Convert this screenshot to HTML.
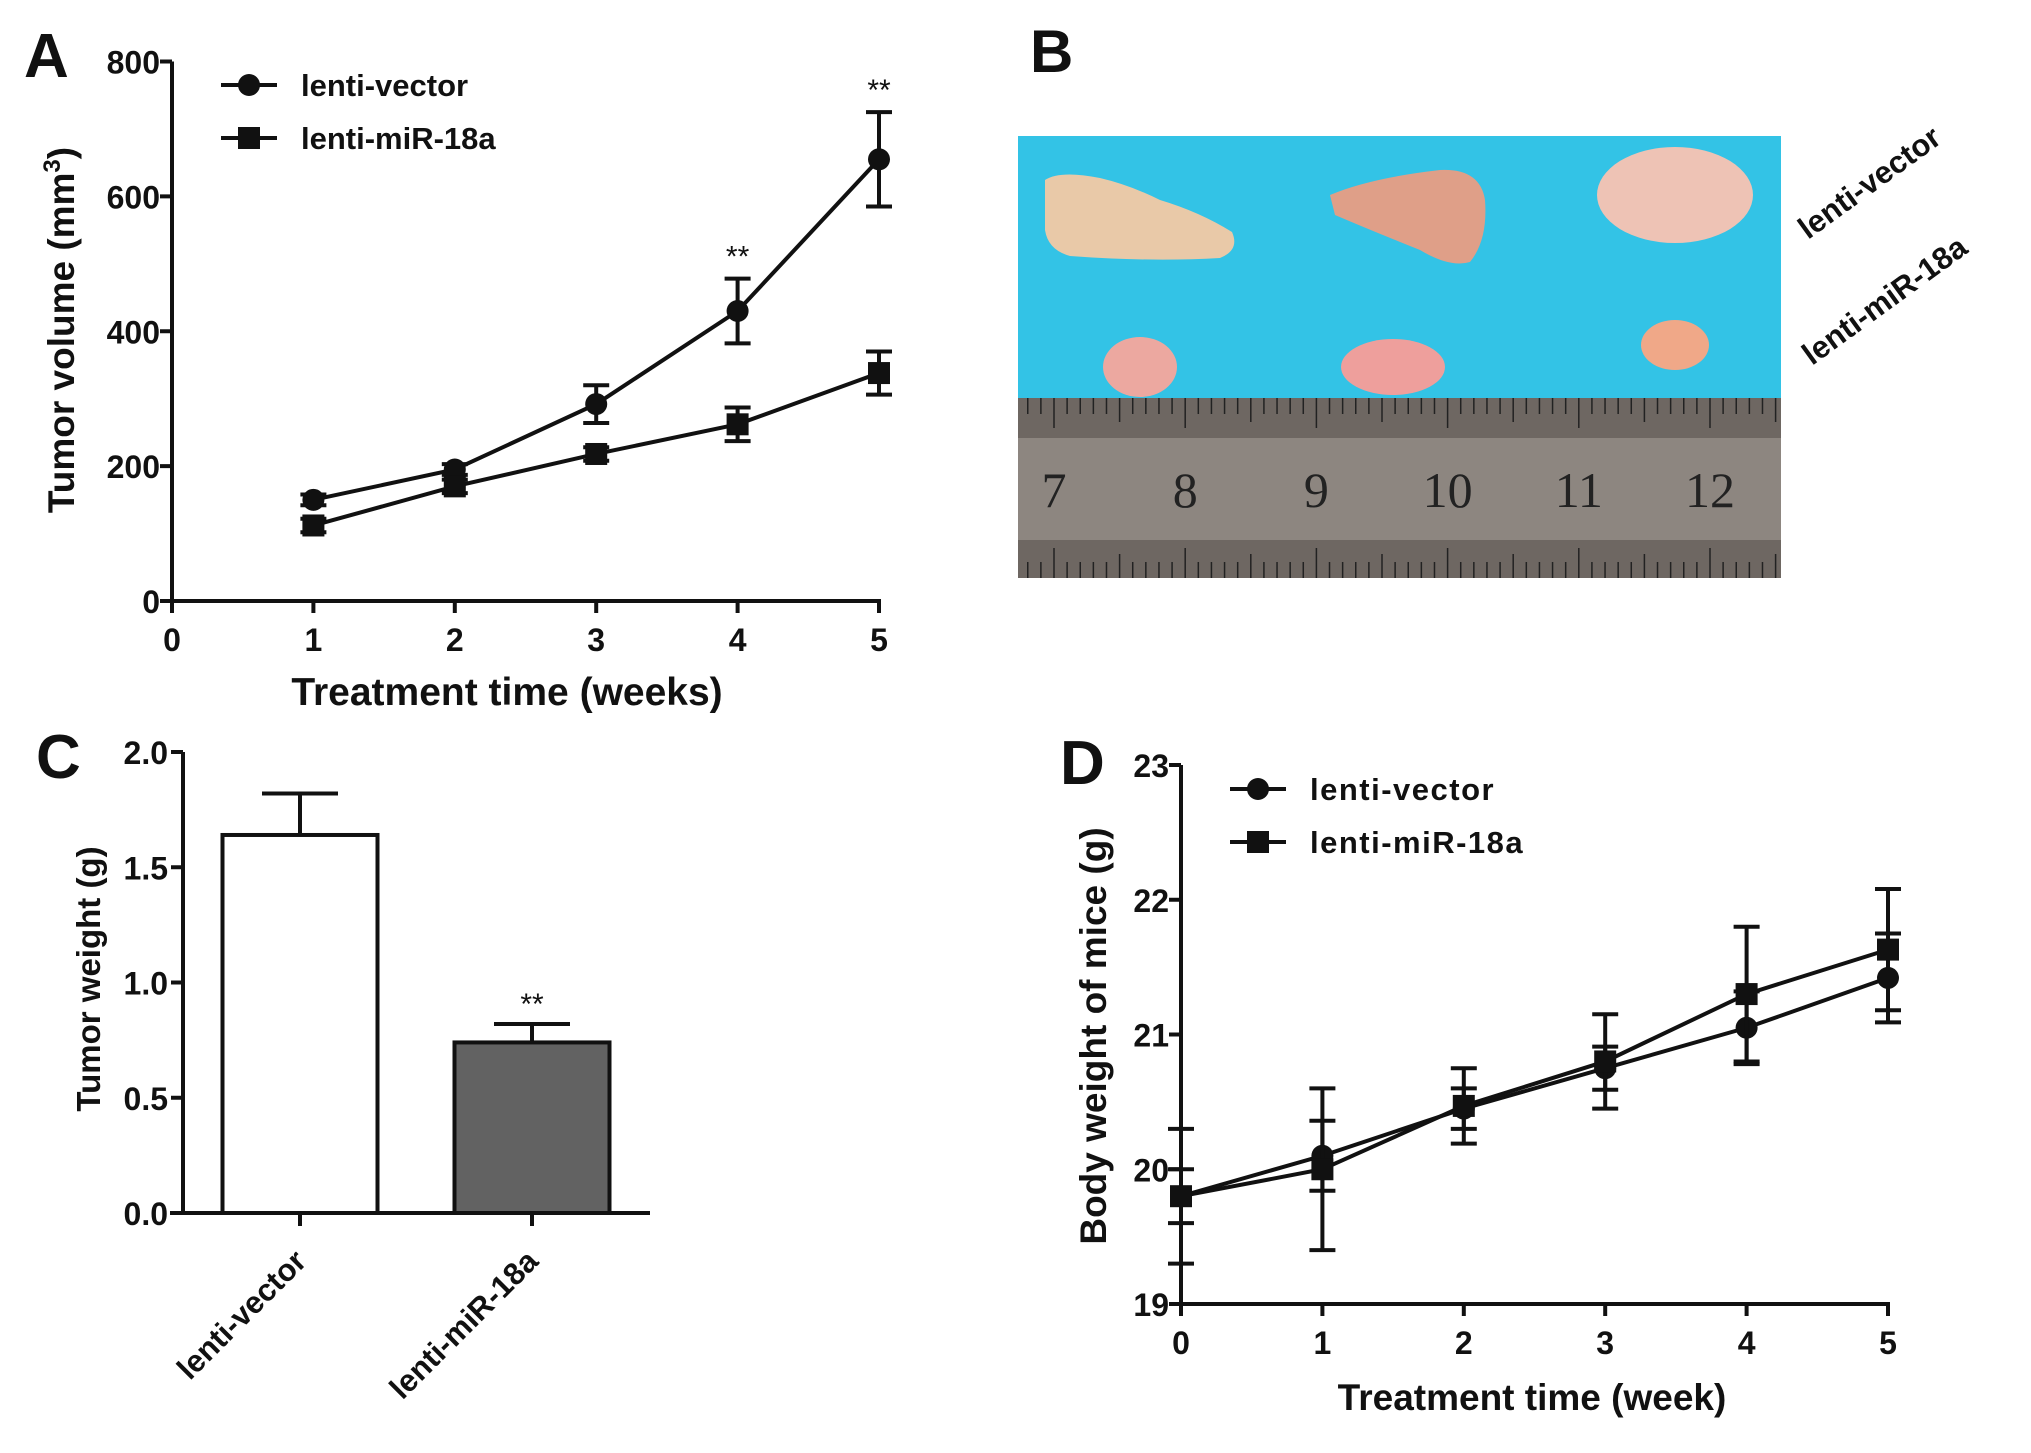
<!DOCTYPE html>
<html><head><meta charset="utf-8"><style>
html,body{margin:0;padding:0;background:#fff}
svg{display:block}
text{font-family:"Liberation Sans",Arial,sans-serif;font-weight:bold;fill:#111}
</style></head><body>
<svg id="fig" width="2031" height="1453" viewBox="0 0 2031 1453" xmlns="http://www.w3.org/2000/svg">
<rect width="2031" height="1453" fill="#fff"/>
<g id="panelA"></g>
<g id="panelB">
  <text x="1030" y="72" font-size="60">B</text>
  <rect x="1018" y="136" width="763" height="262" fill="#33c3e6"/>
  <g>
    <path d="M1045,180 Q1060,170 1100,178 Q1130,185 1160,200 Q1200,212 1232,232 Q1240,250 1220,258 Q1150,262 1070,256 Q1048,250 1045,230 Z" fill="#e9c9a8"/>
    <path d="M1330,195 Q1370,178 1440,170 Q1480,168 1485,200 Q1488,240 1470,262 Q1450,268 1420,250 Q1370,230 1335,215 Z" fill="#df9f88"/>
    <ellipse cx="1675" cy="195" rx="78" ry="48" fill="#eec3b5"/>
    <ellipse cx="1140" cy="367" rx="37" ry="30" fill="#eca8a0"/>
    <ellipse cx="1393" cy="367" rx="52" ry="28" fill="#ee9f9c"/>
    <ellipse cx="1675" cy="345" rx="34" ry="25" fill="#f0a888"/>
  </g>
  <g id="ruler">
    <rect x="1018" y="398" width="763" height="180" fill="#8d8680"/>
    <rect x="1018" y="398" width="763" height="40" fill="#6e6762"/>
    <rect x="1018" y="540" width="763" height="38" fill="#6e6762"/>
  </g>
  <text transform="translate(1808,240) rotate(-36)" font-size="31">lenti-vector</text>
  <text transform="translate(1812,366) rotate(-36)" font-size="31">lenti-miR-18a</text>
</g>
<g id="panelC"></g>
<g id="panelD"></g>
</svg>
<script>
const NS="http://www.w3.org/2000/svg";
// Panel A data
const weeksA=[1,2,3,4,5];
const vecA=[150,195,292,430,655];
const vecAErr=[8,8,28,48,70];
const mirA=[112,170,218,262,338];
const mirAErr=[10,10,10,25,32];
const ticksAY=[0,200,400,600,800];
const ticksAX=[0,1,2,3,4,5];
const sigA=[4,5];
// Panel C data
const catsC=["lenti-vector","lenti-miR-18a"];
const valsC=[1.64,0.74];
const errsC=[0.18,0.08];
const ticksCY=[0.0,0.5,1.0,1.5,2.0];
// Panel D data
const weeksD=[0,1,2,3,4,5];
const vecD=[19.8,20.1,20.45,20.75,21.05,21.42];
const vecDErr=[0.2,0.26,0.15,0.16,0.27,0.33];
const mirD=[19.8,20.0,20.47,20.8,21.3,21.63];
const mirDErr=[0.5,0.6,0.28,0.35,0.5,0.45];
const ticksDY=[19,20,21,22,23];
const ticksDX=[0,1,2,3,4,5];
// Ruler
const rulerNums=[7,8,9,10,11,12];

function el(tag,attrs,parent,txt){const e=document.createElementNS(NS,tag);for(const k in attrs)e.setAttribute(k,attrs[k]);if(txt!==undefined)e.textContent=txt;parent.appendChild(e);return e;}

// Ruler ticks
(function(){
  const g=document.getElementById('ruler');
  const x7=1054,cm=(1710-1054)/5;
  for(let i=-3;i<=62;i++){const x=x7+i*cm/10;if(x<1020||x>1780)continue;
    const len=i%10===0?30:(i%5===0?24:16);
    const t=el('line',{x1:x,y1:398,x2:x,y2:398+len,stroke:'#222','stroke-width':1.5},g);
    
    const b=el('line',{x1:x,y1:578,x2:x,y2:578-len,stroke:'#222','stroke-width':1.5},g);
    }
  rulerNums.forEach((n,i)=>{const t=el('text',{x:x7+i*cm,y:507,'font-size':50,'text-anchor':'middle',style:'font-family:"Liberation Serif",serif;font-weight:normal;fill:#222'},g,String(n));
    });
})();

function lineChart(g,o){
  const X=o.x,Y=o.y;
  // axes
  const ya=el('line',{x1:X(o.xmin),y1:Y(o.ymin),x2:X(o.xmin),y2:Y(o.ymax),stroke:'#111','stroke-width':4},g);
  
  const xa=el('line',{x1:X(o.xmin)-2,y1:Y(o.ymin),x2:X(o.xmax)+2,y2:Y(o.ymin),stroke:'#111','stroke-width':4},g);
  
  o.yt.forEach(v=>{const t=el('line',{x1:X(o.xmin)-12,y1:Y(v),x2:X(o.xmin),y2:Y(v),stroke:'#111','stroke-width':4},g);
    
    const l=el('text',{x:X(o.xmin)-12,y:Y(v)+12,'font-size':32,'text-anchor':'end'},g,String(v));
    });
  o.xt.forEach(v=>{const t=el('line',{x1:X(v),y1:Y(o.ymin),x2:X(v),y2:Y(o.ymin)+12,stroke:'#111','stroke-width':4},g);
    
    const l=el('text',{x:X(v),y:Y(o.ymin)+50,'font-size':32,'text-anchor':'middle'},g,String(v));
    });
  o.series.forEach(s=>{
    const pts=s.xs.map((x,i)=>X(x)+','+Y(s.ys[i])).join(' ');
    const p=el('polyline',{points:pts,fill:'none',stroke:'#111','stroke-width':4},g);
    
    s.xs.forEach((x,i)=>{
      const e1=Y(s.ys[i]+s.err[i]),e2=Y(s.ys[i]-s.err[i]);
      const eb=el('path',{d:`M${X(x)},${e1}V${e2}M${X(x)-13},${e1}h26M${X(x)-13},${e2}h26`,stroke:'#111','stroke-width':4,fill:'none'},g);
      
      let m;
      if(s.shape==='circle') m=el('circle',{cx:X(x),cy:Y(s.ys[i]),r:11,fill:'#111'},g);
      else m=el('rect',{x:X(x)-11,y:Y(s.ys[i])-11,width:22,height:22,fill:'#111'},g);
      
    });
  });
  // legend
  o.series.forEach((s,i)=>{const ly=o.leg.y+i*o.leg.dy,lx=o.leg.x;
    const l=el('line',{x1:lx-28,y1:ly,x2:lx+28,y2:ly,stroke:'#111','stroke-width':4},g);
    
    let m;if(s.shape==='circle')m=el('circle',{cx:lx,cy:ly,r:11,fill:'#111'},g);
    else m=el('rect',{x:lx-11,y:ly-11,width:22,height:22,fill:'#111'},g);
    
    const t=el('text',{x:lx+52,y:ly+11,'font-size':31,'letter-spacing':o.leg.ls||0},g,s.label);
    });
}

// Panel A
(function(){
  const g=document.getElementById('panelA');
  const X=v=>172+v*141.4, Y=v=>601-v*(601-61.5)/800;
  lineChart(g,{x:X,y:Y,xmin:0,xmax:5,ymin:0,ymax:800,yt:ticksAY,xt:ticksAX,leg:{x:249,y:85,dy:53},
    series:[{name:'lenti-vector',label:'lenti-vector',shape:'circle',xs:weeksA,ys:vecA,err:vecAErr},
            {name:'lenti-mir-18a',label:'lenti-miR-18a',shape:'square',xs:weeksA,ys:mirA,err:mirAErr}]});
  sigA.forEach(w=>{const i=weeksA.indexOf(w);
    const t=el('text',{x:X(w),y:Y(vecA[i]+vecAErr[i])-12,'font-size':30,'text-anchor':'middle',style:'font-weight:normal'},g,'**');
    });
  const a=el('text',{x:24,y:77,'font-size':62},g,'A');
  const xt=el('text',{x:507,y:705,'font-size':39,'text-anchor':'middle'},g,'Treatment time (weeks)');
  
  const yt=el('text',{transform:'translate(74,330) rotate(-90)','font-size':37,'text-anchor':'middle'},g);
  
  yt.appendChild(document.createTextNode('Tumor volume (mm'));
  const sup=el('tspan',{dy:-14,'font-size':24},yt,'3');
  const cl=el('tspan',{dy:14},yt,')');
})();

// Panel C
(function(){
  const g=document.getElementById('panelC');
  const Y=v=>1213-v*(1213-752)/2;
  const x0=183, centers=[300,532], bw=155;
  const ya=el('line',{x1:x0,y1:Y(0),x2:x0,y2:Y(2),stroke:'#111','stroke-width':4},g);
  
  const xa=el('line',{x1:170,y1:Y(0),x2:650,y2:Y(0),stroke:'#111','stroke-width':4},g);
  
  ticksCY.forEach(v=>{const t=el('line',{x1:x0-12,y1:Y(v),x2:x0,y2:Y(v),stroke:'#111','stroke-width':4},g);
    
    const l=el('text',{x:x0-15,y:Y(v)+12,'font-size':32,'text-anchor':'end'},g,v.toFixed(1));
    });
  catsC.forEach((c,i)=>{const cx=centers[i];
    const eb=el('path',{d:`M${cx},${Y(valsC[i])}V${Y(valsC[i]+errsC[i])}M${cx-38},${Y(valsC[i]+errsC[i])}h76`,stroke:'#111','stroke-width':4,fill:'none'},g);
    
    const b=el('rect',{x:cx-bw/2,y:Y(valsC[i]),width:bw,height:Y(0)-Y(valsC[i]),fill:i?'#626262':'#fff',stroke:'#111','stroke-width':4},g);
    
    const t=el('line',{x1:cx,y1:Y(0),x2:cx,y2:Y(0)+13,stroke:'#111','stroke-width':4},g);
    
    const l=el('text',{transform:`translate(${cx+8},${Y(0)+50}) rotate(-45)`,'font-size':31,'text-anchor':'end'},g,c);
    });
  const s=el('text',{x:centers[1],y:Y(valsC[1]+errsC[1])-10,'font-size':30,'text-anchor':'middle',style:'font-weight:normal'},g,'**');
  
  const c=el('text',{x:36,y:778,'font-size':62},g,'C');
  const yt=el('text',{transform:'translate(100,979) rotate(-90)','font-size':33,'text-anchor':'middle'},g,'Tumor weight (g)');
  
})();

// Panel D
(function(){
  const g=document.getElementById('panelD');
  const X=v=>1181+v*141.4, Y=v=>1304-(v-19)*134.75;
  lineChart(g,{x:X,y:Y,xmin:0,xmax:5,ymin:19,ymax:23,yt:ticksDY,xt:ticksDX,leg:{x:1258,y:789,dy:53,ls:1.5},
    series:[{name:'lenti-vector',label:'lenti-vector',shape:'circle',xs:weeksD,ys:vecD,err:vecDErr},
            {name:'lenti-mir-18a',label:'lenti-miR-18a',shape:'square',xs:weeksD,ys:mirD,err:mirDErr}]});
  const d=el('text',{x:1060,y:784,'font-size':62},g,'D');
  const xt=el('text',{x:1532,y:1410,'font-size':37,'text-anchor':'middle'},g,'Treatment time (week)');
  
  const yt=el('text',{transform:'translate(1106,1036) rotate(-90)','font-size':37,'text-anchor':'middle'},g,'Body weight of mice (g)');
  
})();
</script>
</body></html>
